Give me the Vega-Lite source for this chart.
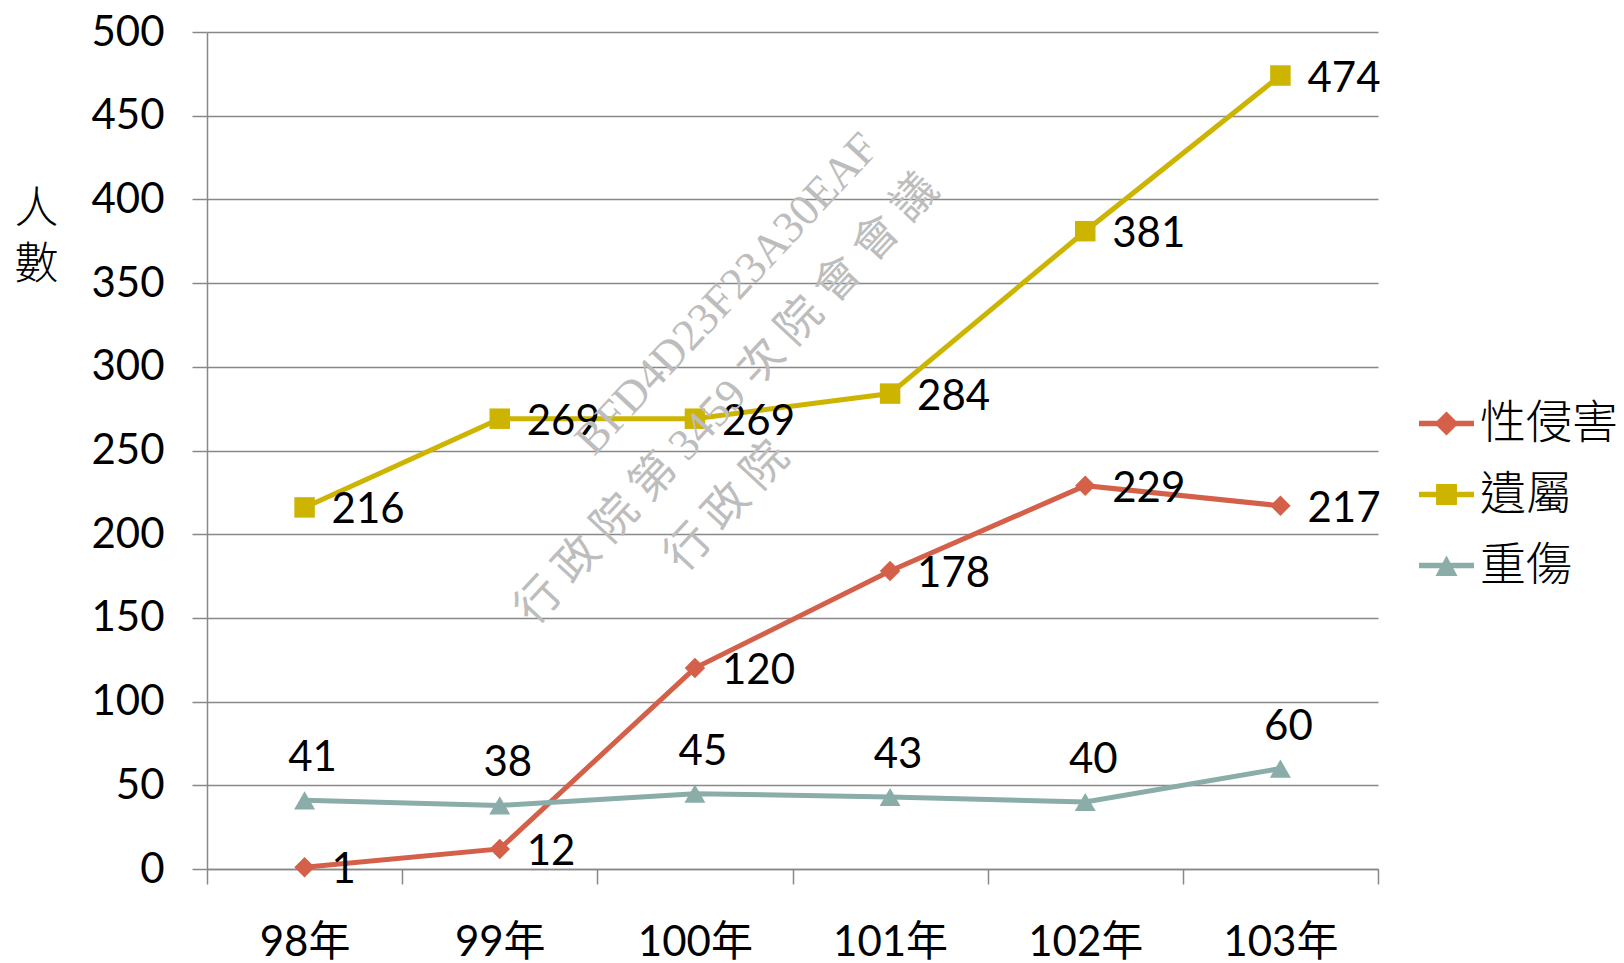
{
  "$schema": "https://vega.github.io/schema/vega-lite/v6.json",
  "width": 1171,
  "height": 837,
  "autosize": {"type": "none"},
  "padding": {"left": 207, "top": 32, "right": 246, "bottom": 94},
  "background": "white",
  "config": {"view": {"stroke": null}, "font": "Lato, Noto Sans CJK TC"},
  "datasets": {
    "main": [
      {"year": "98年", "series": "性侵害", "value": 1},
      {"year": "99年", "series": "性侵害", "value": 12},
      {"year": "100年", "series": "性侵害", "value": 120},
      {"year": "101年", "series": "性侵害", "value": 178},
      {"year": "102年", "series": "性侵害", "value": 229},
      {"year": "103年", "series": "性侵害", "value": 217},
      {"year": "98年", "series": "遺屬", "value": 216},
      {"year": "99年", "series": "遺屬", "value": 269},
      {"year": "100年", "series": "遺屬", "value": 269},
      {"year": "101年", "series": "遺屬", "value": 284},
      {"year": "102年", "series": "遺屬", "value": 381},
      {"year": "103年", "series": "遺屬", "value": 474},
      {"year": "98年", "series": "重傷", "value": 41},
      {"year": "99年", "series": "重傷", "value": 38},
      {"year": "100年", "series": "重傷", "value": 45},
      {"year": "101年", "series": "重傷", "value": 43},
      {"year": "102年", "series": "重傷", "value": 40},
      {"year": "103年", "series": "重傷", "value": 60}
    ],
    "wm": [
      {"year": "100年", "v": 323, "t": "BFD4D23F23A30EAF"},
      {"year": "100年", "v": 260, "t": "行 政 院 第 3459 次 院 會 會 議"},
      {"year": "100年", "v": 196, "t": "行 政 院"}
    ]
  },
  "encoding": {
    "x": {
      "field": "year", "type": "ordinal", "bandPosition": 0.5,
      "scale": {"type": "band", "domain": ["98年", "99年", "100年", "101年", "102年", "103年"], "paddingInner": 0, "paddingOuter": 0},
      "axis": {
        "title": null, "labelAngle": 0, "labelFontSize": 42, "labelFont": "Lato, Noto Sans CJK TC",
        "labelColor": "black", "tickBand": "extent", "tickSize": 15, "tickColor": "#888888",
        "tickWidth": 1.5, "domainColor": "#888888", "domainWidth": 1.5, "labelPadding": 38, "grid": false
      }
    }
  },
  "layer": [
    {
      "data": {"name": "main"},
      "mark": {"type": "line", "strokeWidth": 5},
      "encoding": {
        "y": {
          "field": "value", "type": "quantitative",
          "scale": {"domain": [0, 500], "nice": false, "zero": true},
          "axis": {
            "title": ["人", "數"], "titleAngle": 0, "titleFontSize": 44, "titleFont": "Noto Sans CJK TC",
            "titleFontWeight": 300, "titleX": -171, "titleY": 155, "titleAlign": "center",
            "titleBaseline": "top", "titleLineHeight": 56, "titleColor": "black",
            "values": [0, 50, 100, 150, 200, 250, 300, 350, 400, 450, 500],
            "labelFontSize": 42, "labelFont": "Lato", "labelColor": "black", "labelPadding": 28,
            "tickSize": 15, "tickColor": "#888888", "tickWidth": 1.5,
            "domainColor": "#888888", "domainWidth": 1.5,
            "grid": true, "gridColor": "#888888", "gridWidth": 1.5
          }
        },
        "color": {
          "field": "series", "type": "nominal",
          "scale": {"domain": ["性侵害", "遺屬", "重傷"], "range": ["#D4604A", "#CDB400", "#8AADA9"]},
          "legend": {
            "orient": "none", "legendX": 1212, "legendY": 364, "title": null,
            "labelFontSize": 46, "labelFont": "Noto Sans CJK TC", "labelFontWeight": 300, "labelColor": "black",
            "symbolSize": 3025, "labelOffset": 6, "rowPadding": 20, "padding": 0,
            "symbolStrokeWidth": 0
          }
        }
      }
    },
    {
      "data": {"name": "main"},
      "transform": [{"filter": "datum.value < 0"}],
      "mark": {"type": "point", "filled": true, "opacity": 1, "size": 420},
      "encoding": {
        "y": {"field": "value", "type": "quantitative"},
        "color": {"field": "series", "type": "nominal", "legend": null},
        "shape": {
          "field": "series", "type": "nominal",
          "scale": {"domain": ["性侵害", "遺屬", "重傷"], "range": ["M-1,-0.1H1V0.1H-1Z M0,-0.44L0.44,0L0,0.44L-0.44,0Z", "M-1,-0.1H1V0.1H-1Z M-0.38,-0.38H0.38V0.38H-0.38Z", "M-1,-0.1H1V0.1H-1Z M0,-0.36L0.4,0.38L-0.4,0.38Z"]},
          "legend": null
        }
      }
    },
    {
      "data": {"name": "main"},
      "transform": [{"filter": "datum.series === '性侵害'"}],
      "mark": {"type": "point", "shape": "diamond", "filled": true, "opacity": 1, "size": 420},
      "encoding": {
        "y": {"field": "value", "type": "quantitative"},
        "color": {"field": "series", "type": "nominal", "legend": null}
      }
    },
    {
      "data": {"name": "main"},
      "transform": [{"filter": "datum.series === '遺屬'"}],
      "mark": {"type": "point", "shape": "square", "filled": true, "opacity": 1, "size": 420},
      "encoding": {
        "y": {"field": "value", "type": "quantitative"},
        "color": {"field": "series", "type": "nominal", "legend": null}
      }
    },
    {
      "data": {"name": "main"},
      "transform": [{"filter": "datum.series === '重傷'"}],
      "mark": {"type": "point", "shape": "triangle-up", "filled": true, "opacity": 1, "size": 440},
      "encoding": {
        "y": {"field": "value", "type": "quantitative"},
        "color": {"field": "series", "type": "nominal", "legend": null}
      }
    },
    {
      "data": {"name": "main"},
      "transform": [{"filter": "datum.series !== '重傷'"}],
      "mark": {"type": "text", "align": "left", "baseline": "middle", "dx": 27, "dy": 3, "fontSize": 42, "font": "Lato", "color": "black"},
      "encoding": {
        "y": {"field": "value", "type": "quantitative"},
        "text": {"field": "value", "type": "quantitative"}
      }
    },
    {
      "data": {"name": "main"},
      "transform": [{"filter": "datum.series === '重傷'"}],
      "mark": {"type": "text", "align": "center", "baseline": "middle", "dx": 8, "dy": -42, "fontSize": 42, "font": "Lato", "color": "black"},
      "encoding": {
        "y": {"field": "value", "type": "quantitative"},
        "text": {"field": "value", "type": "quantitative"}
      }
    },
    {
      "data": {"name": "wm"},
      "mark": {"type": "text", "align": "center", "baseline": "middle", "angle": -47, "dx": 47, "fontSize": 45, "font": "Liberation Serif, Noto Sans CJK TC", "color": "#bdbdbd"},
      "encoding": {
        "y": {"field": "v", "type": "quantitative"},
        "text": {"field": "t", "type": "nominal"}
      }
    }
  ]
}
